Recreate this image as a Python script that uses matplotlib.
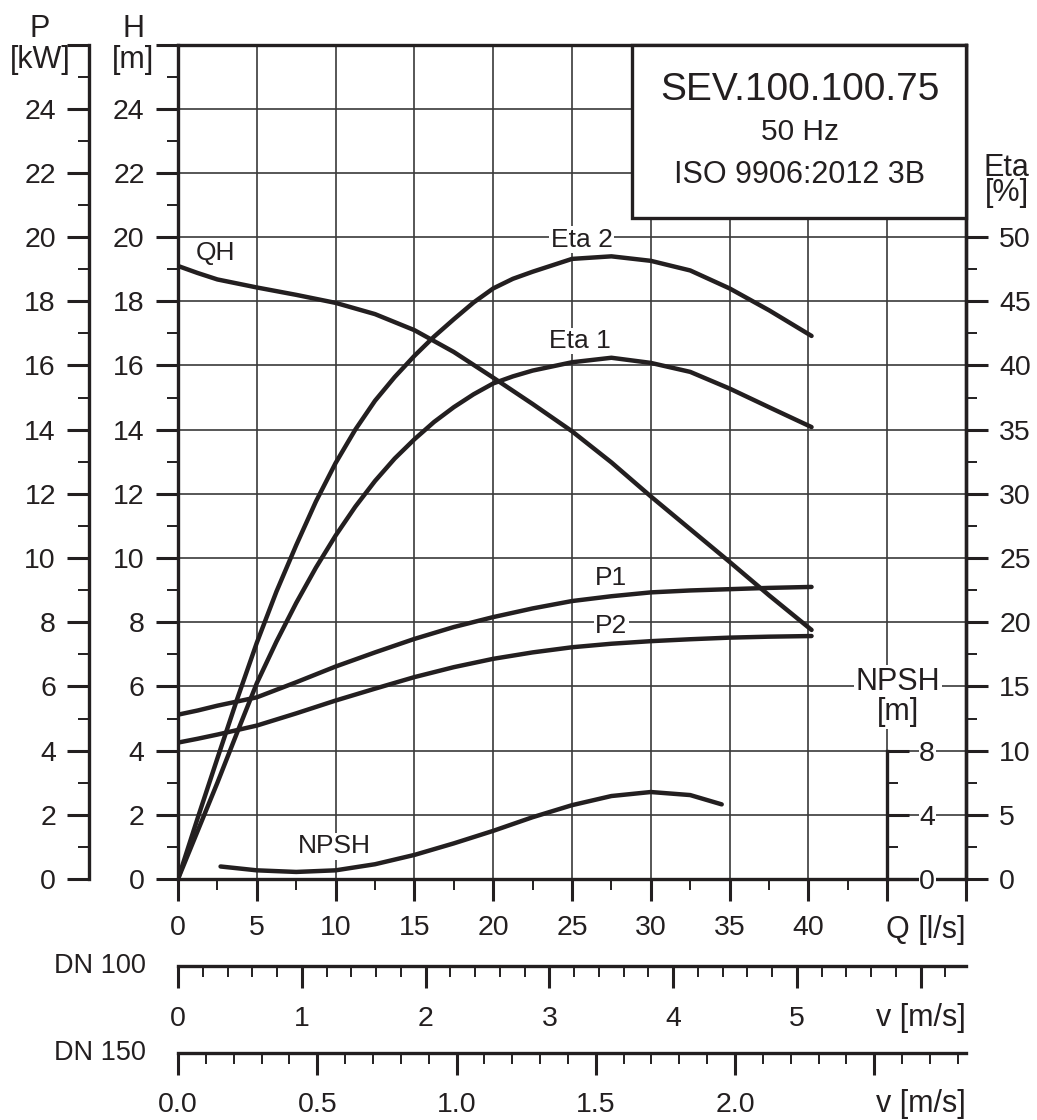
import matplotlib
matplotlib.use("Agg")
import matplotlib.pyplot as plt
from matplotlib.patches import Rectangle
from matplotlib.ticker import MultipleLocator, FixedLocator

plt.rcParams['font.family'] = ['Liberation Sans', 'DejaVu Sans']

INK = '#231f20'
GRID = '#3a3a3a'

# flow rate Q [l/s] where head and power were read
q = [0, 1.25, 2.5, 5, 7.5, 10, 12.5, 15, 17.5, 20, 22.5, 25, 27.5, 30, 32.5, 35, 37.5, 40.2]
# head H [m]
head = [19.1, 18.88, 18.68, 18.43, 18.2, 17.95, 17.6, 17.1, 16.42, 15.62, 14.8, 13.95,
        12.98, 11.92, 10.9, 9.88, 8.84, 7.76]
# power [kW]
p1 = [5.12, 5.25, 5.4, 5.66, 6.13, 6.62, 7.06, 7.48, 7.85, 8.16, 8.43, 8.66, 8.81,
      8.93, 8.99, 9.03, 9.07, 9.1]
p2 = [4.25, 4.37, 4.5, 4.78, 5.16, 5.56, 5.93, 6.29, 6.6, 6.86, 7.06, 7.22, 7.33,
      7.41, 7.47, 7.52, 7.55, 7.57]

# flow rate Q [l/s] where the efficiencies were read
q_eta = [0, 1.25, 2.5, 3.75, 5, 6.25, 7.5, 8.75, 10, 11.25, 12.5, 13.75, 15, 16.25,
         17.5, 18.75, 20, 21.25, 22.5, 25, 27.5, 30, 32.5, 35, 37.5, 40.2]
eta1 = [0, 3.75, 7.5, 11.4, 15.25, 18.5, 21.5, 24.25, 26.75, 29.0, 31.0, 32.75, 34.25,
        35.6, 36.75, 37.75, 38.6, 39.15, 39.6, 40.25, 40.6, 40.2, 39.5, 38.2, 36.75, 35.2]
eta2 = [0, 4.75, 9.4, 14.0, 18.4, 22.4, 26.0, 29.4, 32.4, 35.0, 37.25, 39.1, 40.75,
        42.25, 43.6, 44.9, 46.0, 46.75, 47.3, 48.3, 48.5, 48.15, 47.4, 46.0, 44.3, 42.3]

# NPSH [m]
q_npsh = [2.7, 5, 7.5, 10, 12.5, 15, 17.5, 20, 22.5, 25, 27.5, 30, 32.5, 34.5]
npsh = [0.78, 0.54, 0.44, 0.54, 0.92, 1.5, 2.22, 3.0, 3.85, 4.6, 5.17, 5.42, 5.23, 4.65]

q_major = [0, 5, 10, 15, 20, 25, 30, 35, 40, 45, 50]
q_ticks = ['0', '5', '10', '15', '20', '25', '30', '35', '40', '', '']
h_major = list(range(0, 27, 2))
h_ticks = [str(v) for v in range(0, 25, 2)] + ['']
eta_major = list(range(0, 51, 5))
eta_ticks = [str(v) for v in eta_major]
npsh_major = [0, 4, 8]
npsh_ticks = ['0', '4', '8']
dn100_major = [0, 1, 2, 3, 4, 5, 6]
dn100_ticks = ['0', '1', '2', '3', '4', '5', '']
dn150_major = [0, 0.5, 1.0, 1.5, 2.0, 2.5]
dn150_ticks = ['0.0', '0.5', '1.0', '1.5', '2.0', '']

# l/s per m/s for the two pipe sizes
dn100_area = 3.14159 * 0.100 ** 2 / 4 * 1000
dn150_area = 3.14159 * 0.150 ** 2 / 4 * 1000

W, H = 1037, 1120
fig = plt.figure(figsize=(W / 100, H / 100), dpi=100)


def fx(x):
    return x / W


def fy(y):
    return 1 - y / H


L, R, T, B = 178, 966, 44.5, 879
FS = 20.5     # tick labels
FT = 22       # axis titles
FC = 19       # curve labels
LW_SP = 2.4
LW_C = 3.2


def style_ticks(a, pad):
    a.tick_params(which='major', direction='out', length=16, width=2.2, color=INK,
                  labelsize=FS, labelcolor=INK, pad=pad)
    a.tick_params(which='minor', direction='out', length=8, width=1.4, color=INK)


def curve(a, x, y):
    a.plot(x, y, color=INK, lw=LW_C, solid_capstyle='round', solid_joinstyle='round',
           zorder=4)


ax = fig.add_axes([fx(L), fy(B), fx(R) - fx(L), fy(T) - fy(B)])
ax.set_xlim(0, 50)
ax.set_ylim(0, 26)
ax.xaxis.set_major_locator(FixedLocator(q_major))
ax.xaxis.set_minor_locator(FixedLocator([v + 2.5 for v in q_major[:-1]]))
ax.set_xticklabels(q_ticks)
ax.yaxis.set_major_locator(FixedLocator(h_major))
ax.yaxis.set_minor_locator(FixedLocator([v + 1 for v in h_major[:-1]]))
ax.set_yticklabels(h_ticks)
style_ticks(ax, 8)
ax.tick_params(axis='x', which='major', pad=10)
ax.grid(True, which='major', color=GRID, lw=1.2)
for s in ax.spines.values():
    s.set_linewidth(LW_SP)
    s.set_color(INK)

curve(ax, q, head)

lab = dict(fontsize=FC, color=INK, ha='center', va='baseline',
           bbox=dict(facecolor='white', edgecolor='none', pad=1))
ax.text(2.4, 19.28, 'QH', **lab)
ax.text(25.6, 19.7, 'Eta 2', **lab)
ax.text(25.5, 16.54, 'Eta 1', **lab)
ax.text(27.5, 9.16, 'P1', **lab)
ax.text(27.5, 7.67, 'P2', **lab)
ax.text(9.9, 0.80, 'NPSH', **lab)
lab['fontsize'] = FT
ax.text(45.7, 5.89, 'NPSH', **lab)
ax.text(45.7, 4.95, '[m]', **lab)

# power axis, offset to the left
ax_p = ax.twinx()
ax_p.set_ylim(0, 26)
for s in ax_p.spines.values():
    s.set_visible(False)
ax_p.spines['left'].set_visible(True)
ax_p.spines['left'].set_position(('axes', (89.3 - L) / (R - L)))
ax_p.spines['left'].set_linewidth(LW_SP)
ax_p.spines['left'].set_color(INK)
ax_p.yaxis.set_ticks_position('left')
ax_p.yaxis.set_label_position('left')
ax_p.yaxis.set_major_locator(FixedLocator(h_major))
ax_p.yaxis.set_minor_locator(FixedLocator([v + 1 for v in h_major[:-1]]))
ax_p.set_yticklabels(h_ticks)
style_ticks(ax_p, 8)
curve(ax_p, q, p1)
curve(ax_p, q, p2)

# efficiency axis on the right
ax_e = ax.twinx()
ax_e.set_ylim(0, 65)
for s in ax_e.spines.values():
    s.set_visible(False)
ax_e.spines['right'].set_visible(True)
ax_e.spines['right'].set_linewidth(LW_SP)
ax_e.spines['right'].set_color(INK)
ax_e.yaxis.set_major_locator(FixedLocator(eta_major))
ax_e.yaxis.set_minor_locator(FixedLocator([v + 2.5 for v in eta_major[:-1]]))
ax_e.set_yticklabels(eta_ticks)
style_ticks(ax_e, 8)
curve(ax_e, q_eta, eta1)
curve(ax_e, q_eta, eta2)

# NPSH axis inside the plot at Q = 45
ax_n = ax.twinx()
ax_n.set_ylim(0, 52)
for s in ax_n.spines.values():
    s.set_visible(False)
ax_n.spines['right'].set_visible(True)
ax_n.spines['right'].set_position(('data', 45))
ax_n.spines['right'].set_bounds(0, 8)
ax_n.spines['right'].set_linewidth(LW_SP)
ax_n.spines['right'].set_color(INK)
ax_n.yaxis.set_major_locator(FixedLocator(npsh_major))
ax_n.yaxis.set_minor_locator(FixedLocator([2, 6]))
ax_n.set_yticklabels(npsh_ticks)
style_ticks(ax_n, 7)
for t in ax_n.get_yticklabels():
    t.set_bbox(dict(facecolor='white', edgecolor='none', pad=0.5))
curve(ax_n, q_npsh, npsh)

# title box
bx0 = (632.3 - L) / (R - L)
by0 = (B - 217.7) / (B - T)
ax_n.add_patch(Rectangle((bx0, by0), 1 - bx0, 1 - by0, transform=ax.transAxes,
                         facecolor='white', edgecolor=INK, lw=LW_SP, zorder=10,
                         clip_on=False))
fig.text(fx(800), fy(100), 'SEV.100.100.75', fontsize=28, color=INK,
         ha='center', va='baseline', zorder=11)
fig.text(fx(800), fy(140), '50 Hz', fontsize=21.5, color=INK,
         ha='center', va='baseline', zorder=11)
fig.text(fx(800), fy(182.7), 'ISO 9906:2012 3B', fontsize=22, color=INK,
         ha='center', va='baseline', zorder=11)

# axis titles
txt = dict(fontsize=FT, color=INK, ha='center', va='baseline')
fig.text(fx(40), fy(36.7), 'P', **txt)
fig.text(fx(40), fy(67.8), '[kW]', **txt)
fig.text(fx(133.5), fy(36.7), 'H', **txt)
fig.text(fx(133.5), fy(67.8), '[m]', **txt)
fig.text(fx(1006.5), fy(201.5), 'Eta\n[%]', fontsize=FT, color=INK, ha='center',
         va='baseline', linespacing=0.8, multialignment='center')
fig.text(fx(R), fy(938.3), 'Q [l/s]', fontsize=FT, color=INK, ha='right', va='baseline')


def velocity_scale(y, vmax, major, minor, labels, name, name_y, lab_y, pad):
    a = fig.add_axes([fx(L), fy(y), fx(R) - fx(L), 1e-4])
    a.set_xlim(0, vmax)
    a.set_ylim(0, 1)
    a.patch.set_visible(False)
    for s in ['top', 'left', 'right']:
        a.spines[s].set_visible(False)
    a.spines['bottom'].set_linewidth(LW_SP)
    a.spines['bottom'].set_color(INK)
    a.set_yticks([])
    a.xaxis.set_major_locator(FixedLocator(major))
    a.xaxis.set_minor_locator(MultipleLocator(minor))
    a.set_xticklabels(labels)
    style_ticks(a, pad)
    fig.text(fx(146), fy(name_y), name, fontsize=19.5, color=INK, ha='right', va='baseline')
    fig.text(fx(R), fy(lab_y), 'v [m/s]', fontsize=FT, color=INK, ha='right', va='baseline')
    return a


velocity_scale(965.7, 50 / dn100_area, dn100_major, 0.2, dn100_ticks, 'DN 100', 973.3, 1026, 13)
velocity_scale(1053.3, 50 / dn150_area, dn150_major, 0.1, dn150_ticks, 'DN 150', 1060, 1112, 12)

fig.savefig('out.png', dpi=100, facecolor='white')
